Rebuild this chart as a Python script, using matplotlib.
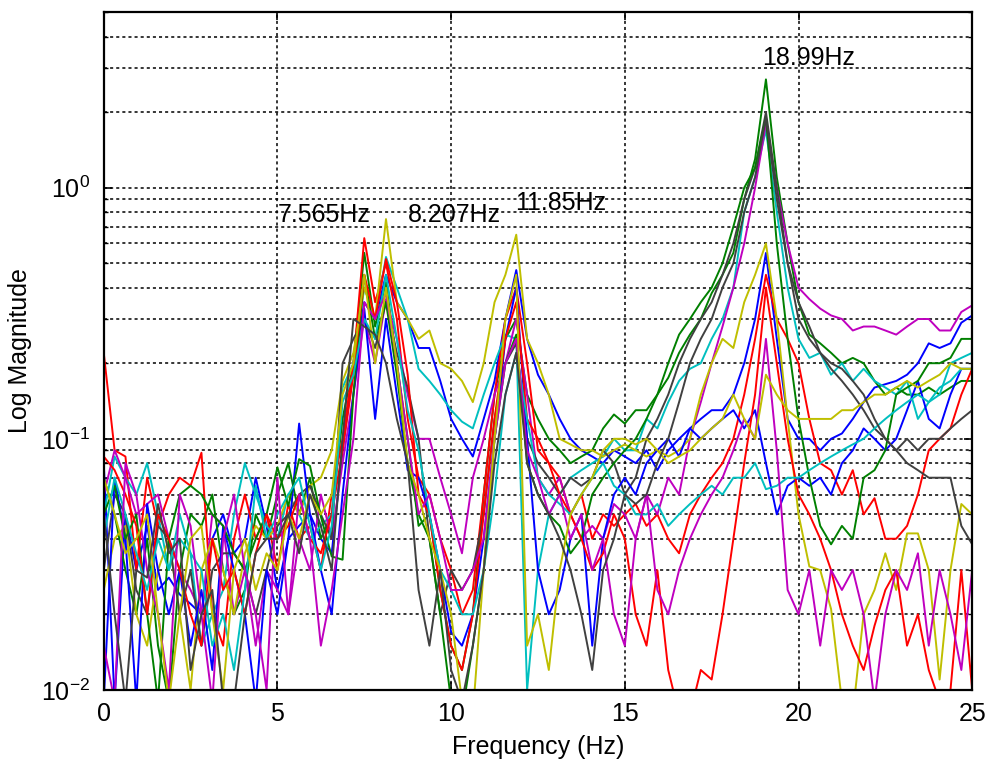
import matplotlib
matplotlib.use('Agg')
import matplotlib.pyplot as plt
import numpy as np
from matplotlib.ticker import NullFormatter, LogLocator

plt.rcParams['font.family'] = ['Liberation Sans', 'DejaVu Sans']
plt.rcParams['mathtext.fontset'] = 'custom'
plt.rcParams['mathtext.rm'] = 'Liberation Sans'

# frequency bins, 0.3125 Hz spacing
freqs = np.arange(81) * 0.3125

blue1 = [0.08, 0.009, 0.05, 0.03, 0.045, 0.025, 0.028, 0.024, 0.022, 0.02, 0.04, 0.05, 0.035, 0.04, 0.07, 0.045, 0.025, 0.04, 0.045, 0.05, 0.04, 0.035,
         0.09, 0.19, 0.35, 0.3, 0.45, 0.35, 0.3, 0.23, 0.23, 0.17, 0.12, 0.1, 0.085, 0.12, 0.17, 0.3, 0.47, 0.25, 0.18,
         0.15, 0.12, 0.1, 0.09, 0.085, 0.08, 0.09, 0.085, 0.08, 0.09, 0.075, 0.09, 0.1, 0.11, 0.12, 0.13, 0.13, 0.15, 0.2, 0.3,
         0.55, 0.25, 0.12, 0.1, 0.1, 0.09, 0.1, 0.105, 0.12, 0.14, 0.16, 0.165, 0.17, 0.18, 0.2, 0.24, 0.23, 0.24, 0.29, 0.31]
green1 = [0.07, 0.05, 0.03, 0.02, 0.04, 0.015, 0.009, 0.03, 0.05, 0.045, 0.06, 0.03, 0.02, 0.025, 0.05, 0.04, 0.06, 0.08, 0.05, 0.07, 0.04, 0.05,
          0.12, 0.2, 0.55, 0.28, 0.42, 0.2, 0.1, 0.045, 0.05, 0.025, 0.015, 0.012, 0.02, 0.06, 0.15, 0.25, 0.3, 0.15, 0.12,
          0.1, 0.09, 0.08, 0.085, 0.09, 0.11, 0.125, 0.115, 0.13, 0.13, 0.15, 0.175, 0.22, 0.26, 0.3, 0.38, 0.45, 0.55, 0.9, 1.3,
          2.7, 1.1, 0.6, 0.35, 0.26, 0.24, 0.22, 0.2, 0.21, 0.2, 0.17, 0.15, 0.16, 0.15, 0.15, 0.16, 0.15, 0.16, 0.17, 0.17]
red1 = [0.22, 0.09, 0.085, 0.03, 0.07, 0.045, 0.06, 0.07, 0.065, 0.088, 0.02, 0.015, 0.04, 0.06, 0.04, 0.05, 0.03, 0.055, 0.04, 0.045, 0.03, 0.06,
        0.1, 0.2, 0.63, 0.35, 0.5, 0.3, 0.12, 0.07, 0.06, 0.04, 0.03, 0.02, 0.025, 0.06, 0.15, 0.3, 0.4, 0.2, 0.09,
        0.08, 0.07, 0.05, 0.06, 0.04, 0.05, 0.045, 0.05, 0.055, 0.045, 0.05, 0.04, 0.035, 0.05, 0.06, 0.07, 0.08, 0.1, 0.15, 0.25,
        0.45, 0.3, 0.25, 0.2, 0.12, 0.08, 0.075, 0.06, 0.075, 0.05, 0.058, 0.04, 0.04, 0.045, 0.06, 0.09, 0.1, 0.11, 0.15, 0.19]
cyan1 = [0.05, 0.085, 0.07, 0.06, 0.08, 0.05, 0.03, 0.04, 0.035, 0.015, 0.02, 0.025, 0.05, 0.08, 0.06, 0.045, 0.04, 0.06, 0.05, 0.04, 0.045, 0.05,
         0.16, 0.2, 0.4, 0.3, 0.53, 0.4, 0.3, 0.19, 0.17, 0.15, 0.13, 0.117, 0.11, 0.15, 0.2, 0.26, 0.25, 0.01, 0.03,
         0.05, 0.06, 0.07, 0.075, 0.08, 0.085, 0.1, 0.09, 0.09, 0.12, 0.11, 0.14, 0.17, 0.19, 0.2, 0.25, 0.3, 0.4, 0.8, 1.1,
         1.7, 0.8, 0.4, 0.25, 0.21, 0.22, 0.18, 0.2, 0.17, 0.19, 0.17, 0.16, 0.15, 0.17, 0.12, 0.14, 0.15, 0.2, 0.21, 0.22]
magenta1 = [0.06, 0.09, 0.07, 0.05, 0.055, 0.06, 0.04, 0.03, 0.025, 0.02, 0.05, 0.045, 0.02, 0.03, 0.015, 0.03, 0.025, 0.02, 0.04, 0.03, 0.06, 0.04,
            0.08, 0.15, 0.3, 0.2, 0.36, 0.25, 0.15, 0.1, 0.1, 0.07, 0.05, 0.035, 0.07, 0.1, 0.15, 0.2, 0.3, 0.15, 0.07,
            0.06, 0.07, 0.05, 0.04, 0.045, 0.04, 0.055, 0.05, 0.04, 0.06, 0.05, 0.07, 0.06, 0.1, 0.14, 0.2, 0.28, 0.4, 0.6, 1.0,
            1.8, 1.0, 0.6, 0.4, 0.36, 0.33, 0.31, 0.3, 0.27, 0.28, 0.28, 0.27, 0.26, 0.28, 0.3, 0.3, 0.27, 0.27, 0.32, 0.34]
yellow1 = [0.025, 0.04, 0.045, 0.02, 0.015, 0.03, 0.04, 0.02, 0.01, 0.03, 0.04, 0.03, 0.02, 0.035, 0.045, 0.04, 0.045, 0.06, 0.05, 0.065, 0.07, 0.09,
           0.17, 0.22, 0.4, 0.3, 0.75, 0.35, 0.3, 0.25, 0.27, 0.2, 0.19, 0.17, 0.14, 0.2, 0.35, 0.45, 0.65, 0.25, 0.2,
           0.15, 0.1, 0.095, 0.09, 0.09, 0.085, 0.09, 0.095, 0.09, 0.085, 0.09, 0.085, 0.09, 0.1, 0.15, 0.2, 0.25, 0.23, 0.35, 0.45,
           0.6, 0.3, 0.12, 0.05, 0.031, 0.03, 0.021, 0.009, 0.008, 0.02, 0.025, 0.035, 0.025, 0.042, 0.042, 0.03, 0.011, 0.03, 0.055, 0.05]
gray1 = [0.03, 0.06, 0.05, 0.025, 0.02, 0.045, 0.04, 0.02, 0.03, 0.015, 0.03, 0.035, 0.035, 0.03, 0.02, 0.03, 0.045, 0.05, 0.06, 0.065, 0.05, 0.04,
         0.2, 0.25, 0.3, 0.23, 0.35, 0.22, 0.16, 0.1, 0.04, 0.02, 0.03, 0.025, 0.03, 0.05, 0.12, 0.2, 0.24, 0.1, 0.08,
         0.07, 0.06, 0.07, 0.065, 0.07, 0.09, 0.08, 0.06, 0.07, 0.1, 0.12, 0.15, 0.2, 0.25, 0.3, 0.35, 0.45, 0.6, 0.9, 1.2,
         2.0, 1.0, 0.5, 0.3, 0.25, 0.22, 0.19, 0.17, 0.15, 0.13, 0.11, 0.1, 0.09, 0.08, 0.075, 0.07, 0.07, 0.07, 0.045, 0.038]
blue2 = [0.009, 0.07, 0.04, 0.009, 0.055, 0.03, 0.02, 0.03, 0.015, 0.025, 0.012, 0.045, 0.03, 0.02, 0.009, 0.03, 0.02, 0.04, 0.115, 0.05, 0.03, 0.02,
         0.06, 0.15, 0.33, 0.12, 0.3, 0.15, 0.075, 0.07, 0.05, 0.03, 0.017, 0.015, 0.02, 0.04, 0.1, 0.25, 0.4, 0.1, 0.03,
         0.02, 0.025, 0.04, 0.05, 0.015, 0.04, 0.06, 0.07, 0.06, 0.08, 0.09, 0.1, 0.085, 0.11, 0.1, 0.11, 0.12, 0.13, 0.11, 0.13,
         0.08, 0.05, 0.065, 0.07, 0.065, 0.07, 0.06, 0.08, 0.09, 0.11, 0.1, 0.09, 0.1, 0.13, 0.17, 0.12, 0.11, 0.15, 0.19, 0.19]
green2 = [0.05, 0.065, 0.04, 0.05, 0.02, 0.009, 0.04, 0.06, 0.065, 0.06, 0.05, 0.045, 0.035, 0.03, 0.04, 0.05, 0.077, 0.054, 0.083, 0.078, 0.049, 0.034,
          0.033, 0.15, 0.45, 0.25, 0.35, 0.18, 0.08, 0.05, 0.04, 0.02, 0.009, 0.008, 0.015, 0.03, 0.1, 0.2, 0.26, 0.08, 0.06,
          0.05, 0.045, 0.035, 0.04, 0.06, 0.07, 0.08, 0.09, 0.1, 0.12, 0.15, 0.2, 0.26, 0.3, 0.35, 0.4, 0.5, 0.7, 1.0, 1.2,
          1.9, 0.6, 0.25, 0.12, 0.07, 0.045, 0.038, 0.045, 0.04, 0.07, 0.075, 0.09, 0.15, 0.16, 0.17, 0.2, 0.2, 0.21, 0.25, 0.25]
red2 = [0.085, 0.075, 0.06, 0.045, 0.02, 0.05, 0.04, 0.03, 0.02, 0.015, 0.04, 0.025, 0.03, 0.02, 0.035, 0.05, 0.04, 0.045, 0.06, 0.04, 0.035, 0.05,
        0.09, 0.18, 0.45, 0.3, 0.52, 0.35, 0.18, 0.06, 0.05, 0.025, 0.015, 0.012, 0.02, 0.05, 0.12, 0.25, 0.35, 0.12, 0.1,
        0.08, 0.06, 0.05, 0.04, 0.03, 0.035, 0.05, 0.04, 0.02, 0.015, 0.03, 0.012, 0.008, 0.008, 0.012, 0.011, 0.02, 0.04, 0.08, 0.15,
        0.4, 0.2, 0.1, 0.06, 0.05, 0.04, 0.03, 0.02, 0.015, 0.012, 0.018, 0.025, 0.03, 0.015, 0.02, 0.012, 0.009, 0.01, 0.03, 0.01]
cyan2 = [0.04, 0.07, 0.05, 0.035, 0.025, 0.04, 0.03, 0.05, 0.035, 0.03, 0.015, 0.02, 0.012, 0.025, 0.065, 0.04, 0.05, 0.06, 0.07, 0.045, 0.03, 0.045,
         0.14, 0.18, 0.3, 0.25, 0.45, 0.25, 0.13, 0.09, 0.05, 0.03, 0.025, 0.02, 0.02, 0.03, 0.06, 0.15, 0.22, 0.12, 0.07,
         0.06, 0.055, 0.05, 0.06, 0.07, 0.08, 0.065, 0.06, 0.05, 0.05, 0.055, 0.045, 0.05, 0.055, 0.06, 0.065, 0.06, 0.07, 0.07, 0.08,
         0.063, 0.065, 0.07, 0.07, 0.075, 0.08, 0.085, 0.09, 0.095, 0.1, 0.11, 0.12, 0.13, 0.14, 0.15, 0.14, 0.16, 0.17, 0.19, 0.19]
magenta2 = [0.015, 0.009, 0.08, 0.06, 0.03, 0.02, 0.01, 0.06, 0.045, 0.02, 0.009, 0.04, 0.06, 0.03, 0.02, 0.01, 0.07, 0.02, 0.06, 0.04, 0.015, 0.025,
            0.05, 0.1, 0.35, 0.3, 0.38, 0.2, 0.1, 0.05, 0.06, 0.04, 0.025, 0.025, 0.03, 0.04, 0.1, 0.2, 0.25, 0.09, 0.07,
            0.05, 0.06, 0.04, 0.05, 0.03, 0.04, 0.02, 0.015, 0.04, 0.06, 0.025, 0.02, 0.03, 0.04, 0.05, 0.06, 0.07, 0.09, 0.12, 0.1,
            0.25, 0.09, 0.025, 0.02, 0.03, 0.015, 0.03, 0.025, 0.03, 0.02, 0.009, 0.02, 0.03, 0.025, 0.035, 0.015, 0.03, 0.02, 0.012, 0.03]
yellow2 = [0.07, 0.05, 0.035, 0.04, 0.05, 0.02, 0.009, 0.02, 0.04, 0.045, 0.02, 0.01, 0.03, 0.04, 0.025, 0.035, 0.03, 0.05, 0.04, 0.06, 0.05, 0.06,
           0.15, 0.2, 0.45, 0.2, 0.4, 0.2, 0.08, 0.06, 0.04, 0.03, 0.02, 0.009, 0.008, 0.03, 0.1, 0.3, 0.45, 0.015, 0.02,
           0.012, 0.03, 0.05, 0.06, 0.07, 0.09, 0.1, 0.1, 0.095, 0.1, 0.09, 0.08, 0.085, 0.09, 0.1, 0.11, 0.12, 0.15, 0.12, 0.1,
           0.18, 0.15, 0.13, 0.12, 0.12, 0.12, 0.12, 0.13, 0.13, 0.14, 0.15, 0.15, 0.16, 0.17, 0.16, 0.17, 0.18, 0.2, 0.19, 0.19]
gray2 = [0.05, 0.02, 0.009, 0.03, 0.028, 0.055, 0.035, 0.04, 0.012, 0.02, 0.025, 0.009, 0.009, 0.02, 0.035, 0.04, 0.04, 0.05, 0.035, 0.06, 0.045, 0.03,
         0.1, 0.3, 0.28, 0.26, 0.2, 0.12, 0.08, 0.025, 0.015, 0.03, 0.012, 0.009, 0.015, 0.03, 0.08, 0.15, 0.22, 0.08, 0.06,
         0.05, 0.04, 0.03, 0.02, 0.012, 0.03, 0.04, 0.06, 0.055, 0.06, 0.08, 0.1, 0.14, 0.2, 0.25, 0.3, 0.4, 0.5, 0.8, 1.1,
         1.9, 0.9, 0.5, 0.35, 0.28, 0.22, 0.2, 0.19, 0.17, 0.15, 0.12, 0.1, 0.09, 0.1, 0.09, 0.1, 0.1, 0.11, 0.12, 0.13]

series = [blue1, green1, red1, cyan1, magenta1, yellow1, gray1,
          blue2, green2, red2, cyan2, magenta2, yellow2, gray2]
# matlab default line colours
colors = [(0, 0, 1), (0, 0.5, 0), (1, 0, 0), (0, 0.75, 0.75),
          (0.75, 0, 0.75), (0.75, 0.75, 0), (0.25, 0.25, 0.25)] * 2

peak_labels = ['7.565Hz', '8.207Hz', '11.85Hz', '18.99Hz']
label_x = [5.0, 8.75, 11.84, 18.95]
label_y = [0.78, 0.78, 0.87, 3.3]

if __name__ == '__main__':
    fig = plt.figure(figsize=(9.88, 7.64), dpi=100)
    ax = fig.add_axes([0.105, 0.097, 0.879, 0.887])

    for s, c in zip(series, colors):
        ax.plot(freqs, s, color=c, linewidth=1.4)

    for t, x, y in zip(peak_labels, label_x, label_y):
        ax.text(x, y, t, fontsize=18, ha='left', va='center')

    ax.set_yscale('log')
    ax.set_xlim(0, 25)
    ax.set_ylim(0.01, 5)
    ax.set_xticks([0, 5, 10, 15, 20, 25])
    ax.yaxis.set_major_locator(LogLocator(base=10, numticks=10))
    ax.yaxis.set_minor_locator(LogLocator(base=10, subs=np.arange(2, 10), numticks=20))
    ax.yaxis.set_minor_formatter(NullFormatter())

    dots = (0, (2, 2))
    ax.grid(True, which='major', axis='x', color='k', linestyle=dots, linewidth=1.1)
    ax.grid(True, which='both', axis='y', color='k', linestyle=dots, linewidth=1.1)

    ax.tick_params(which='both', direction='in', top=True, right=True, labelsize=18)
    ax.tick_params(which='major', length=6, width=1.2)
    ax.tick_params(axis='x', pad=9)
    ax.tick_params(axis='y', pad=10)
    ax.tick_params(which='minor', length=3, width=1.0)
    for sp in ax.spines.values():
        sp.set_linewidth(1.6)

    ax.set_xlabel('Frequency (Hz)', fontsize=18, labelpad=6)
    ax.set_ylabel('Log Magnitude', fontsize=18)
    ax.yaxis.set_label_coords(-0.083, 0.5)

    fig.savefig('out.png', dpi=100)
